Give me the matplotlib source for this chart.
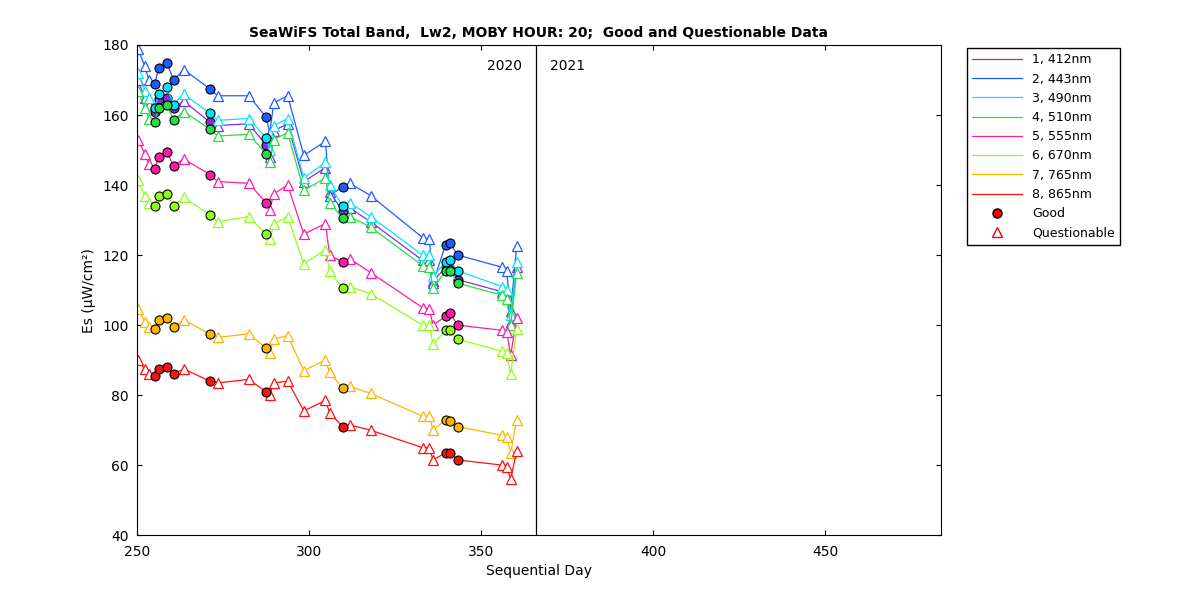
import matplotlib
matplotlib.use("Agg")
import matplotlib.pyplot as plt
import numpy as np

days = [250.3, 252.3, 253.5, 255.2, 256.4, 258.7, 260.7, 263.6, 271.2, 273.5, 282.5, 287.5, 288.6, 289.8,
        293.8, 298.5, 304.8, 306, 309.8, 311.8, 317.9, 333, 335, 336, 339.7, 340.9, 343.2, 356.2, 357.4, 358.6, 360.3]
good = [0, 0, 0, 1, 1, 1, 1, 0, 1, 0, 0, 1, 0, 0, 0, 0, 0, 0, 1, 0, 0, 0, 0, 0, 1, 1, 1, 0, 0, 0, 0]

labels = ["1, 412nm", "2, 443nm", "3, 490nm", "4, 510nm", "5, 555nm", "6, 670nm", "7, 765nm", "8, 865nm"]
colors = ["#8a2be2", "#1f5cff", "#00e5ff", "#22e040", "#ff1aaa", "#8fff1a", "#ffb400", "#ff1010"]
es_412 = [170,165,163,161,164.5,165,162,164,158,157,157.5,151.5,148,155.5,157.5,141,145,138,132.5,133.5,129.5,118.5,118.5,112.5,116.5,116,113,109.5,108.5,101,116.5]
es_443 = [179,174,170,169,173.5,175,170,173,167.5,165.5,165.5,159.5,155,163.5,165.5,148.5,152.5,137,139.5,140.5,137,125,124.5,112,123,123.5,120,116.5,115.5,104,122.5]
es_490 = [172,167,165,162,166,168,163,166,160.5,158.5,159,153.5,150,157,159,142,146.5,140,134,135,131,120,120,114,118,118.5,115.5,111,110,103,118]
es_510 = [167,162,159,158,162,163,158.5,161,156,154,154.5,149,146.5,153,155,138.5,142,135,130.5,131,128,117,116.5,110.5,115.5,115.5,112,108.5,107.5,100,115]
es_555 = [153,149,146,144.5,148,149.5,145.5,147.5,143,141,140.5,135,133,137.5,140,126,129,120,118,119,115,105,104.5,100,102.5,103.5,100,98.5,98,91.5,102]
es_670 = [141.5,137,135,134,137,137.5,134,136.5,131.5,129.5,131,126,124.5,129,131,117.5,121.5,115.5,110.5,111,109,100,100,94.5,98.5,98.5,96,92.5,92,86,99]
es_765 = [104.5,101,99.5,99,101.5,102,99.5,101.5,97.5,96.5,97.5,93.5,92,96,97,87,90,86.5,82,82.5,80.5,74,74,70,73,72.5,71,68.5,68,63.5,73]
es_865 = [90,87.5,86,85.5,87.5,88,86,87.5,84,83.5,84.5,81,80,83.5,84,75.5,78.5,75,71,71.5,70,65,65,61.5,63.5,63.5,61.5,60,59.5,56,64]
series = [es_412, es_443, es_490, es_510, es_555, es_670, es_765, es_865]

fig = plt.figure(figsize=(12, 6), dpi=100)
ax = fig.add_axes([0.114, 0.108, 0.67, 0.817])
d = np.array(days)
g = np.array(good, bool)
handles = []
for lab, c, v in zip(labels, colors, series):
    v = np.array(v)
    h, = ax.plot(d, v, '-', color=c, lw=0.9, label=lab)
    handles.append(h)
    ax.plot(d[~g], v[~g], '^', mfc='white', mec=c, ms=6.5, mew=0.9, ls='none')
    ax.plot(d[g], v[g], 'o', mfc=c, mec='black', ms=6.5, mew=0.8, ls='none')
hg, = ax.plot([], [], 'o', mfc='red', mec='black', ms=6.5, ls='none', label='Good')
hq, = ax.plot([], [], '^', mfc='none', mec='red', ms=6.5, ls='none', label='Questionable')
handles += [hg, hq]
ax.axvline(366, color='black', lw=0.9)
ax.text(362, 174, "2020", ha='right', va='center', fontsize=10)
ax.text(370, 174, "2021", ha='left', va='center', fontsize=10)
ax.set_xlim(250, 483.5)
ax.set_ylim(40, 180)
ax.set_xticks([250, 300, 350, 400, 450])
ax.set_yticks(range(40, 181, 20))
ax.tick_params(direction='in', top=True, right=True, labelsize=10)
ax.tick_params(axis='x', pad=7)
ax.tick_params(axis='y', pad=6)
ax.set_xlabel("Sequential Day", fontsize=10)
ax.set_ylabel("Es (µW/cm²)", fontsize=10)
ax.set_title("SeaWiFS Total Band,  Lw2, MOBY HOUR: 20;  Good and Questionable Data", fontsize=10, fontweight='bold')
fig.legend(handles=handles, loc='upper left', bbox_to_anchor=(0.801, 0.93), fontsize=9,
           fancybox=False, edgecolor='black', framealpha=1, handlelength=4)
fig.savefig("out.png", dpi=100)
